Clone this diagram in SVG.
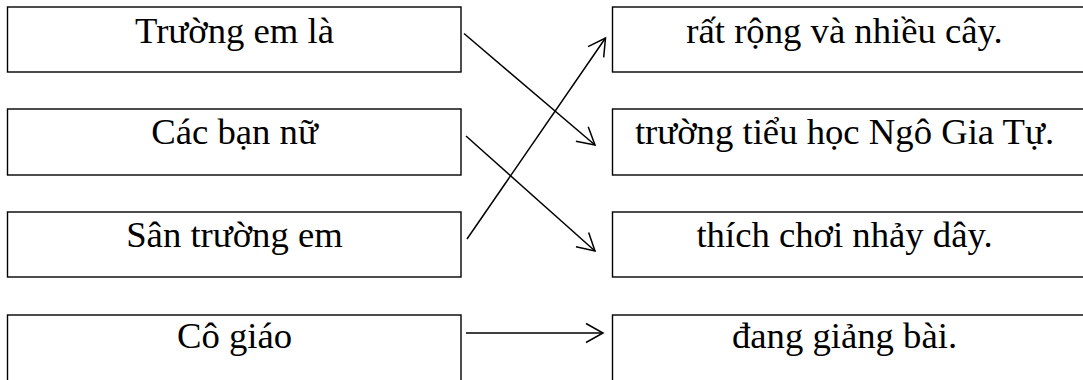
<svg xmlns="http://www.w3.org/2000/svg" width="1083" height="380" viewBox="0 0 1083 380">
  <defs>
    <style>
      .box { fill: #ffffff; stroke: #000000; stroke-width: 1.4; }
      .label { font-family: "Liberation Serif", "Times New Roman", serif; font-size: 36.7px; fill: #000000; text-anchor: middle; }
      .link { fill: none; stroke: #000000; stroke-width: 1.5; marker-end: url(#open-arrow); }
    </style>
    <marker id="open-arrow" markerUnits="userSpaceOnUse" markerWidth="24" markerHeight="24" viewBox="-20 -12 24 24" refX="0" refY="0" orient="auto" overflow="visible">
      <path d="M -17 -9.5 L 0 0 L -17 9.5" fill="none" stroke="#000000" stroke-width="1.5"/>
    </marker>
  </defs>
  <rect width="1083" height="380" fill="#ffffff"/>

  <!-- left column: sentence beginnings -->
  <g id="left-1">
    <rect class="box" x="7.5" y="7" width="453.5" height="65"/>
    <text class="label" x="234.5" y="43">Trường em là</text>
  </g>
  <g id="left-2">
    <rect class="box" x="7.5" y="109" width="453.5" height="66"/>
    <text class="label" x="234.5" y="143.5">Các bạn nữ</text>
  </g>
  <g id="left-3">
    <rect class="box" x="7.5" y="212" width="453.5" height="65"/>
    <text class="label" x="234.5" y="246.5">Sân trường em</text>
  </g>
  <g id="left-4">
    <rect class="box" x="7.5" y="315" width="453.5" height="80"/>
    <text class="label" x="234.5" y="348">Cô giáo</text>
  </g>

  <!-- right column: sentence endings -->
  <g id="right-1">
    <rect class="box" x="612.5" y="7" width="480" height="65"/>
    <text class="label" x="844.5" y="42.5">rất rộng và nhiều cây.</text>
  </g>
  <g id="right-2">
    <rect class="box" x="612.5" y="109" width="480" height="66"/>
    <text class="label" x="844.5" y="143.5">trường tiểu học Ngô Gia Tự.</text>
  </g>
  <g id="right-3">
    <rect class="box" x="612.5" y="212" width="480" height="65"/>
    <text class="label" x="844.5" y="246.5">thích chơi nhảy dây.</text>
  </g>
  <g id="right-4">
    <rect class="box" x="612.5" y="315" width="480" height="80"/>
    <text class="label" x="844.5" y="348">đang giảng bài.</text>
  </g>

  <!-- matching arrows -->
  <g id="connectors">
    <line class="link" x1="464" y1="33.5" x2="595" y2="145"/>
    <line class="link" x1="466" y1="136" x2="595" y2="251"/>
    <line class="link" x1="467" y1="239" x2="605.5" y2="38"/>
    <line class="link" x1="466" y1="333" x2="603" y2="333"/>
  </g>
</svg>
